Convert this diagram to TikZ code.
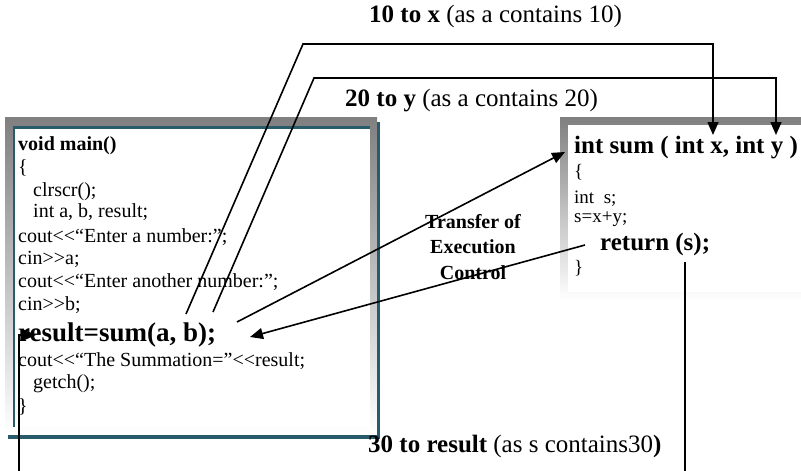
\documentclass[tikz,border=0pt]{standalone}
\usepackage{fontspec}
\setmainfont{Liberation Serif}
\usetikzlibrary{arrows.meta}
\definecolor{frame}{RGB}{40,92,108}
\definecolor{shade}{RGB}{240,240,240}
\begin{document}
\begin{tikzpicture}[x=1pt,y=-1pt,
 code/.style={anchor=base west,inner sep=0pt,font=\fontsize{20}{24}\selectfont},
 boldcode/.style={anchor=base west,inner sep=0pt,font=\fontsize{20}{24}\selectfont\bfseries},
 bigcode/.style={anchor=base west,inner sep=0pt,font=\fontsize{27}{32}\selectfont\bfseries},
 sigcode/.style={anchor=base west,inner sep=0pt,font=\fontsize{25}{30}\selectfont\bfseries},
 small/.style={anchor=base west,inner sep=0pt,font=\fontsize{19}{22}\selectfont},
 lbl/.style={anchor=base west,inner sep=0pt,font=\fontsize{25}{30}\selectfont},
 conn/.style={line width=1.6pt},
 arr/.style={conn,-{Triangle[length=13pt,width=11pt]}}]
\useasboundingbox (0,0) rectangle (801,471);
% left box
\fill[shade] (5,117) rectangle (377,433);
\fill[white] (15,128) rectangle (370,427);
\draw[frame,line width=3pt] (13,127) -- (370,127);
\draw[frame,line width=2pt] (14,127) -- (14,427);
\draw[frame,line width=3pt] (378,122) -- (378,439);
\draw[frame,line width=4pt] (8,437) -- (380,437);
% right box
\fill[shade] (560,117) rectangle (801,300);
\fill[white] (568,125) rectangle (801,292);
% main code
\node[boldcode] (main) at (18,150) {void main()};
\node[code] (ob1) at (18,173) {\{};
\node[code] (clr) at (33,196) {clrscr();};
\node[code] (decl) at (33,217) {int a, b, result;};
\node[code] (out1) at (18,242) {cout<\kern0pt<“Enter a number:”;};
\node[code] (in1) at (18,264) {cin>\kern0pt>a;};
\node[code] (out2) at (18,287) {cout<\kern0pt<“Enter another number:”;};
\node[code] (in2) at (18,310) {cin>\kern0pt>b;};
\node[bigcode] (call) at (18,341) {result=sum(a, b);};
\node[code] (out3) at (18,366) {cout<\kern0pt<“The Summation=”<\kern0pt<result;};
\node[code] (getch) at (33,388) {getch();};
\node[code] (cb1) at (18,412) {\}};
% function code
\node[sigcode] (sig) at (574,153) {int sum ( int x, int y )};
\node[small] (ob2) at (574,177) {\{};
\node[small] (decls) at (574,203) {int\ \ s;};
\node[small] (calc) at (574,222) {s=x+y;};
\node[sigcode] (ret) at (600,250) {return (s);};
\node[small] (cb2) at (574,273) {\}};
% labels
\node[lbl] (lx) at (369,23) {\textbf{10 to x} (as a contains 10)};
\node[lbl] (ly) at (345,106) {\textbf{20 to y} (as a contains 20)};
\node[lbl] (lr) at (368,452) {\textbf{30 to result} (as s contains30\textbf{)}};
\node[align=center,inner sep=0pt,font=\fontsize{20}{25.5}\selectfont\bfseries] (tr) at (473,247) {Transfer of\\Execution\\Control};
% connector points
\coordinate (xs) at (186,314); \coordinate (xk1) at (303,44);
\coordinate (xk2) at (713,44); \coordinate (xe) at (713,135);
\coordinate (ys) at (213,312); \coordinate (yk1) at (314,78);
\coordinate (yk2) at (776,78); \coordinate (ye) at (776,135);
\coordinate (ts) at (237,322); \coordinate (te) at (565,152);
\coordinate (rs) at (585,245); \coordinate (re) at (250,337);
\coordinate (bs) at (685,262); \coordinate (be) at (685,471);
\coordinate (cs) at (19,471); \coordinate (ck) at (19,335); \coordinate (ce) at (36,335);
% connectors
\draw[arr] (xs) -- (xk1) -- (xk2) -- (xe);
\draw[arr] (ys) -- (yk1) -- (yk2) -- (ye);
\draw[arr] (ts) -- (te);
\draw[arr] (rs) -- (re);
\draw[conn] (bs) -- (be);
\draw[arr] (cs) -- (ck) -- (ce);
\end{tikzpicture}
\end{document}
